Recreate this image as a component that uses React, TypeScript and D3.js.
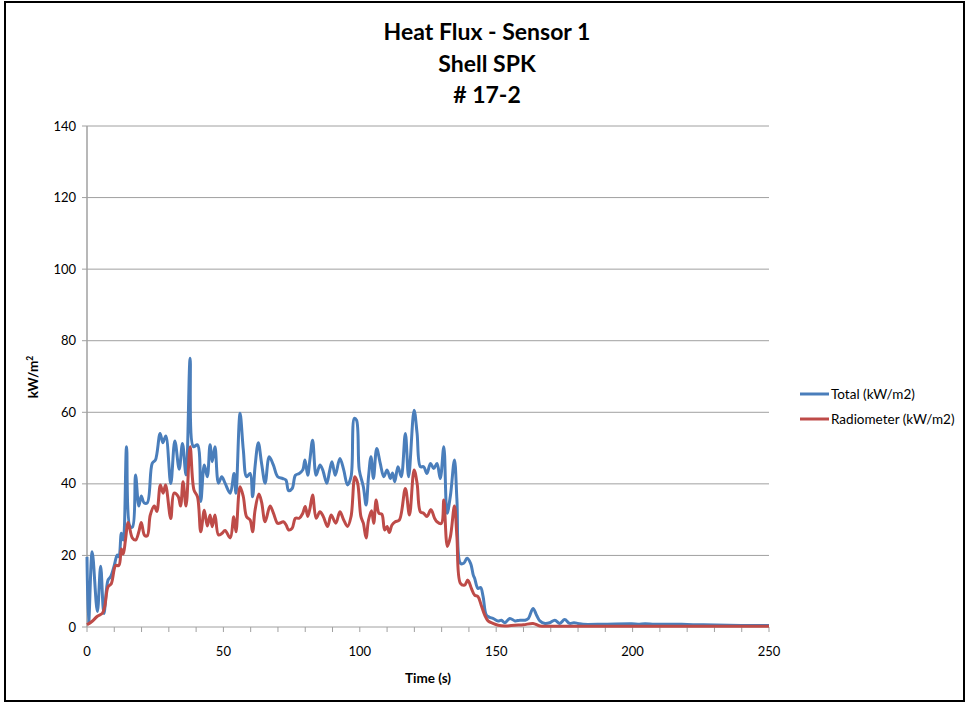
import React from "react";
import * as d3 from "d3";

const titleLines = ["Heat Flux - Sensor 1", "Shell SPK", "# 17-2"];
const yTicks = [0, 20, 40, 60, 80, 100, 120, 140];
const xTicks = [0, 50, 100, 150, 200, 250];
const xMinorTicks = d3.range(0, 251, 10);

const timeTotal = [0, 0.6, 1.9, 3.8, 5.0, 6.2, 7.7, 8.7, 9.9, 11.1, 11.7, 12.6, 13.3, 14.5, 15.8, 16.7, 17.8, 19.0, 19.9, 20.9, 22.1, 23.9, 25.1, 26.8, 27.8, 28.9, 30.7, 32.2, 33.8, 35.0, 36.3, 37.8, 39.0, 40.5, 41.7, 43.0, 44.1, 45.1, 45.9, 46.9, 48.2, 49.4, 50.6, 52.5, 53.9, 54.6, 56.1, 57.3, 58.5, 59.8, 60.7, 61.6, 62.8, 64.0, 65.3, 66.8, 68.3, 69.9, 71.7, 72.9, 73.9, 75.2, 76.4, 77.8, 79.1, 79.9, 80.9, 81.7, 82.7, 84.0, 85.4, 86.4, 87.9, 88.9, 89.8, 91.0, 92.7, 94.1, 95.5, 96.8, 98.0, 98.8, 99.8, 101.3, 102.3, 103.2, 104.1, 105.0, 106.2, 107.5, 108.8, 110.0, 111.2, 112.0, 112.8, 114.0, 115.2, 116.7, 117.9, 119.9, 121.0, 122.2, 123.4, 124.6, 125.9, 127.1, 128.3, 129.5, 130.8, 132.0, 133.2, 134.7, 135.6, 136.9, 138.1, 139.3, 140.6, 141.6, 142.1, 143.3, 144.3, 145.2, 146.4, 147.6, 148.8, 150.7, 151.9, 153.2, 155.0, 156.9, 158.7, 160.6, 161.8, 163.5, 164.8, 166.0, 167.9, 169.6, 171.5, 173.3, 175.1, 176.9, 178.5, 180.0, 181.8, 190, 199.7, 202, 204.6, 208, 213.7, 220, 226, 235, 246.6, 250];
const total = [19.6, 1.0, 21.0, 4.3, 17.0, 3.8, 13.1, 14.1, 16.9, 20.1, 19.6, 26.2, 24.3, 50.4, 28.0, 28.0, 42.5, 33.8, 36.6, 34.7, 34.7, 45.7, 46.7, 54.1, 51.5, 53.4, 40.1, 52.0, 44.1, 51.3, 42.5, 75.1, 50.4, 50.9, 35.1, 45.3, 42.0, 50.9, 46.2, 50.4, 40.2, 42.0, 40.2, 37.4, 42.9, 37.4, 59.7, 49.5, 42.0, 42.9, 36.4, 44.8, 51.5, 45.7, 40.2, 47.6, 45.3, 42.0, 41.5, 41.1, 38.1, 38.7, 42.4, 42.9, 43.9, 46.7, 42.4, 46.7, 52.2, 42.4, 45.3, 43.9, 40.2, 43.5, 46.2, 42.4, 47.1, 43.9, 39.7, 42.0, 58.3, 57.8, 43.9, 39.2, 34.1, 42.0, 47.6, 41.5, 49.9, 45.7, 42.0, 43.9, 41.5, 43.0, 40.6, 44.8, 42.0, 54.1, 42.0, 60.6, 54.1, 44.8, 44.8, 42.9, 45.7, 44.3, 45.7, 41.5, 50.4, 31.8, 36.6, 46.7, 35.6, 17.8, 17.8, 19.2, 17.8, 14.5, 13.6, 10.8, 11.0, 8.5, 3.3, 2.7, 2.4, 1.7, 1.9, 1.2, 2.4, 1.7, 1.9, 1.9, 2.4, 5.2, 3.3, 1.7, 1.0, 1.2, 1.9, 1.0, 2.1, 1.0, 1.2, 1.0, 0.75, 0.8, 0.9, 0.8, 0.9, 0.8, 0.8, 0.7, 0.6, 0.5, 0.4, 0.4];

const timeRadiometer = [0, 1.9, 3.8, 5.6, 6.5, 7.7, 8.9, 10.5, 11.7, 12.6, 13.3, 14.1, 15.1, 16.6, 17.8, 19.0, 19.9, 21.1, 22.1, 23.2, 24.7, 25.6, 26.9, 27.9, 28.8, 30.7, 31.9, 33.4, 34.3, 35.2, 36.3, 37.8, 39.2, 40.5, 41.7, 43.0, 44.1, 45.1, 45.9, 46.9, 48.2, 49.4, 50.6, 52.5, 53.8, 54.6, 56.1, 57.3, 58.5, 59.8, 60.7, 61.6, 63.0, 64.0, 65.3, 67.1, 68.3, 69.8, 70.5, 72.0, 73.0, 73.9, 75.2, 76.4, 77.8, 79.1, 80.0, 80.9, 81.7, 82.7, 84.0, 85.4, 86.6, 88.2, 89.5, 91.2, 92.7, 94.1, 95.5, 96.8, 98.2, 99.2, 100.4, 101.3, 102.3, 103.2, 104.3, 105.1, 106.0, 107.0, 108.1, 109.1, 110.0, 110.8, 111.8, 113.0, 114.5, 116.7, 118.2, 119.9, 121.0, 122.2, 123.4, 124.6, 126.1, 127.4, 128.3, 129.9, 130.8, 132.1, 133.2, 134.7, 135.6, 136.9, 138.4, 139.6, 140.9, 142.1, 143.3, 144.5, 145.8, 147.0, 148.8, 150.7, 153.2, 156.9, 160, 163.5, 166, 170, 200, 250];
const radiometer = [0.6, 1.6, 3.0, 3.8, 5.7, 11.2, 12.1, 17.2, 17.2, 21.8, 20.4, 24.3, 29.2, 24.9, 24.3, 26.6, 29.2, 25.6, 25.5, 31.3, 33.8, 32.3, 39.7, 37.4, 39.7, 30.3, 37.4, 36.5, 33.8, 40.6, 33.8, 50.4, 38.3, 36.4, 26.6, 32.6, 28.2, 31.3, 28.0, 31.3, 25.7, 26.1, 27.0, 24.9, 30.8, 26.6, 39.2, 36.4, 30.8, 29.9, 26.6, 32.6, 37.2, 34.9, 29.4, 33.8, 31.9, 29.0, 29.0, 29.4, 28.5, 27.1, 27.6, 30.4, 30.4, 31.8, 33.7, 30.9, 33.0, 36.9, 30.4, 32.2, 30.9, 28.1, 31.3, 29.0, 32.2, 29.9, 28.1, 30.9, 42.0, 40.2, 30.9, 29.0, 24.9, 29.9, 32.5, 29.0, 35.5, 31.8, 31.5, 27.1, 28.1, 26.4, 28.5, 29.4, 29.9, 38.7, 31.3, 43.9, 40.2, 32.2, 31.8, 30.9, 32.8, 30.4, 29.4, 28.9, 35.5, 22.5, 25.2, 33.8, 25.2, 12.2, 11.7, 13.1, 10.8, 8.9, 8.5, 6.1, 3.3, 1.7, 1.0, 0.5, 0.3, 0.5, 0.6, 1.0, 0.3, 0.2, 0.2, 0.2];

const seriesNames = ["Total (kW/m2)", "Radiometer (kW/m2)"];
const seriesColors = ["#4A7EBB", "#BE4B48"];

export default function App() {
  const W = 968, H = 705;
  const left = 87, right = 769, top = 126, bottom = 627;
  const x = d3.scaleLinear().domain([0, 250]).range([left, right]);
  const y = d3.scaleLinear().domain([0, 140]).range([bottom, top]);
  const line = d3
    .line<[number, number]>()
    .x((d) => x(d[0]))
    .y((d) => y(d[1]))
    .curve(d3.curveCatmullRom.alpha(0.5));
  const totalData: [number, number][] = timeTotal.map((t, i) => [t, total[i]]);
  const radData: [number, number][] = timeRadiometer.map((t, i) => [t, radiometer[i]]);
  const font = "Lato, 'Open Sans', 'Liberation Sans', sans-serif";
  const grid = "#A0A0A0";

  return (
    <svg
      width={W}
      height={H}
      style={{ position: "absolute", left: 0, top: 0, background: "#fff" }}
      fontFamily={font}
    >
      <rect x={0} y={0} width={W} height={H} fill="#fff" />
      <rect x={5} y={2} width={959} height={699} fill="none" stroke="#000" strokeWidth={2} />
      {titleLines.map((t, i) => (
        <text
          key={t}
          x={487}
          y={40 + i * 31.5}
          textAnchor="middle"
          fontSize={23}
          fontWeight="bold"
          fill="#000"
        >
          {t}
        </text>
      ))}
      {yTicks.map((v) => (
        <g key={"y" + v}>
          <line x1={left} x2={right} y1={y(v)} y2={y(v)} stroke={grid} strokeWidth={1} />
          <line x1={left - 5} x2={left} y1={y(v)} y2={y(v)} stroke={grid} strokeWidth={1} />
          <text x={76} y={y(v) + 4.5} textAnchor="end" fontSize={13} fill="#000">
            {v}
          </text>
        </g>
      ))}
      <line x1={left} x2={left} y1={top} y2={bottom} stroke={grid} strokeWidth={1.5} />
      {xMinorTicks.map((v) => (
        <line key={"xt" + v} x1={x(v)} x2={x(v)} y1={bottom} y2={bottom + 5} stroke={grid} strokeWidth={1} />
      ))}
      {xTicks.map((v) => (
        <text key={"x" + v} x={x(v)} y={656} textAnchor="middle" fontSize={13} fill="#000">
          {v}
        </text>
      ))}
      <text x={428} y={683} textAnchor="middle" fontSize={13.5} fontWeight="bold" fill="#000">
        Time (s)
      </text>
      <text
        transform="translate(38,377) rotate(-90)"
        textAnchor="middle"
        fontSize={13.5}
        fontWeight="bold"
        fill="#000"
      >
        kW/m<tspan fontSize={8.5} dy={-5}>2</tspan>
      </text>
      <path d={line(totalData) || ""} fill="none" stroke={seriesColors[0]} strokeWidth={3} strokeLinejoin="round" />
      <path d={line(radData) || ""} fill="none" stroke={seriesColors[1]} strokeWidth={3} strokeLinejoin="round" />
      {seriesNames.map((n, i) => (
        <g key={n}>
          <line x1={800} x2={829} y1={394 + i * 25} y2={394 + i * 25} stroke={seriesColors[i]} strokeWidth={3} />
          <text x={831} y={398.5 + i * 25} fontSize={13.5} fill="#000">
            {n}
          </text>
        </g>
      ))}
    </svg>
  );
}
